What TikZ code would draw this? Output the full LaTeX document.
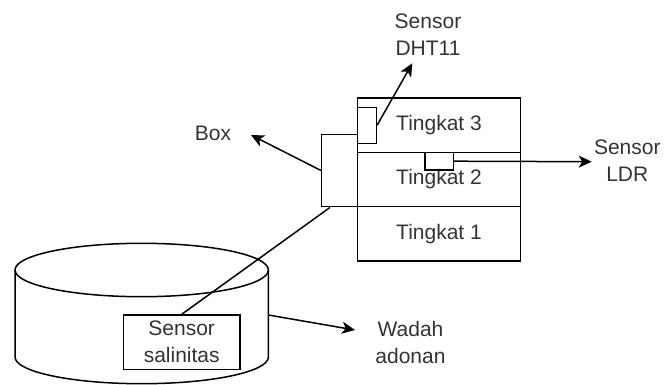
\documentclass[tikz,border=0pt]{standalone}
\usepackage{fontspec}
\setmainfont{Liberation Sans}
\usetikzlibrary{arrows.meta}
\definecolor{txtgray}{HTML}{333333}
\tikzset{
    part/.style={draw, rectangle, inner sep=0pt},
    label/.style={align=center, text=txtgray, inner sep=0pt},
    pointer/.style={-{Stealth[length=13pt, width=12pt, inset=3.5pt]}}
}
\begin{document}
\begin{tikzpicture}[x=1pt, y=-1pt, line width=1.5pt,
        every node/.style={font=\fontsize{21}{27}\selectfont}]
    \useasboundingbox (0,0) rectangle (664,385);
    \begin{scope}[every node/.style={part, font=\fontsize{21}{27}\selectfont, text=txtgray, minimum width=162.6pt, minimum height=54.2pt}]
        \node (t3) at (439,125.3) {Tingkat 3};
        \node (t2) at (439,179.5) {Tingkat 2};
        \node (t1) at (439,233.7) {Tingkat 1};
    \end{scope}
    \node[part, minimum width=36pt, minimum height=72.4pt] (box) at (339.7,170.5) {};
    \node[part, minimum width=18.6pt, minimum height=36pt] (dht) at (367,125.3) {};
    \node[part, minimum width=28.3pt, minimum height=17.7pt] (ldr) at (439.2,161.2) {};
    \draw (15,270) -- (15,357) arc (180:360:126.7pt and 26.7pt) -- (268.3,270);
    \draw (141.7,270) ellipse [x radius=126.7pt, y radius=26.7pt];
    \coordinate (wadah-edge) at (268.3,315);
    \node[part, minimum width=116.7pt, minimum height=54.3pt, align=center, text=txtgray] (salinitas) at (181.7,342.2) {Sensor\\salinitas};
    \node[label] (boxlbl) at (213,133) {Box};
    \node[label] (dhtlbl) at (428,35) {Sensor\\DHT11};
    \node[label] (ldrlbl) at (627.3,161) {Sensor\\LDR};
    \node[label] (wadah) at (410.5,342.5) {Wadah\\adonan};
    \coordinate (box-tip) at (251,135);
    \coordinate (dht-tip) at (412.3,63.3);
    \coordinate (ldr-tip) at (591.7,161.7);
    \coordinate (wadah-tip) at (355,330);
    \draw[pointer] (box.west) -- (box-tip);
    \draw[pointer] (dht.east) -- (dht-tip);
    \draw[pointer] (ldr.east) -- (ldr-tip);
    \draw[pointer] (wadah-edge) -- (wadah-tip);
    \draw (salinitas.north) -- (box.south -| 330,0);
\end{tikzpicture}
\end{document}
